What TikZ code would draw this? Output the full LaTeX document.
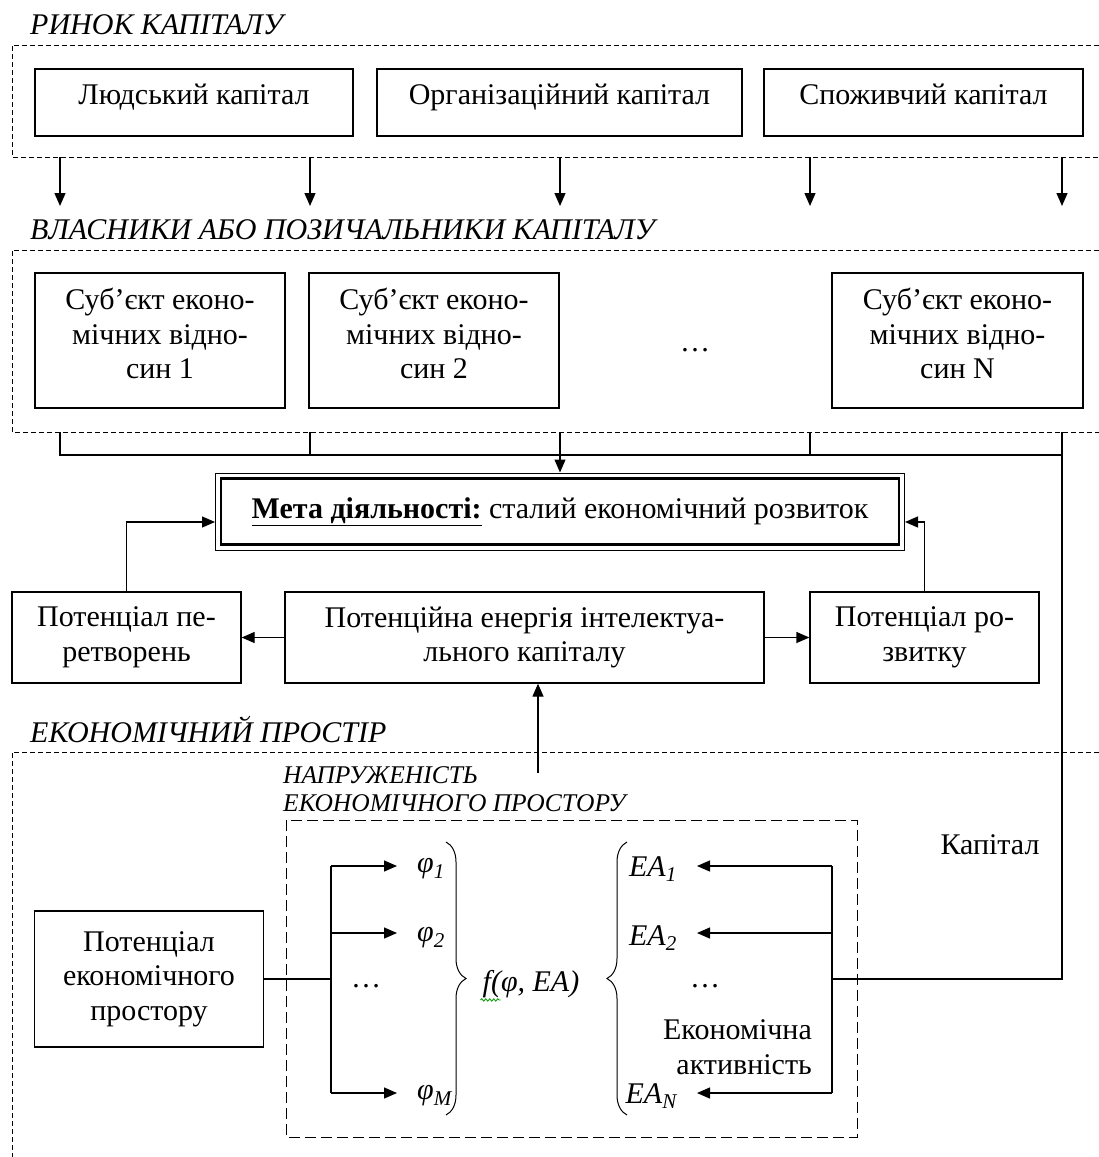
\documentclass[tikz,border=0pt]{standalone}
\usepackage{fontspec}
\setmainfont{Liberation Serif}
\usetikzlibrary{arrows.meta,decorations.pathreplacing,decorations.pathmorphing}
\newcommand\mainfs{\fontsize{30}{34.5}\selectfont}
\newcommand\smallfs{\fontsize{25.5}{28}\selectfont}
\newcommand\lift[2]{\raisebox{#1}[\height][\depth]{\begin{tabular}{@{}c@{}}#2\end{tabular}}}
\begin{document}
\begin{tikzpicture}[x=1pt,y=-1pt,
  every node/.style={font=\mainfs},
  box/.style={draw,line width=1.3pt,align=center,inner sep=0pt},
  region/.style={line width=1pt,dash pattern=on 5pt off 3pt},
  innerregion/.style={line width=1pt,dash pattern=on 11pt off 5pt},
  conn/.style={line width=1.3pt},
  arr/.style={conn,-{Triangle[length=13pt,width=11pt]}},
  ttl/.style={anchor=west,inner sep=0pt,font=\mainfs\itshape},
  sttl/.style={anchor=west,inner sep=0pt,font=\smallfs\itshape},
  var/.style={inner sep=0pt,font=\mainfs\itshape},
  brc/.style={line width=1pt,decorate,decoration={brace,amplitude=20pt}}
]
\useasboundingbox (0,0) rectangle (1099,1157);

% ---------- capital market ----------
\node[ttl] (t1) at (30,25) {РИНОК КАПІТАЛУ};
\draw[region] (1099,45) -- (12,45) -- (12,157) -- (1099,157);
\node[box,minimum width=318pt,minimum height=67pt] (hc) at (194,102.5) {\lift{5pt}{Людський капітал}};
\node[box,minimum width=365pt,minimum height=67pt] (oc) at (559.5,102.5) {\lift{5pt}{Організаційний капітал}};
\node[box,minimum width=319pt,minimum height=67pt] (cc) at (923.5,102.5) {\lift{5pt}{Споживчий капітал}};
\foreach \i/\x in {1/60,2/310,3/560,4/810,5/1062}{
  \coordinate (m\i) at (\x,157);
  \coordinate (n\i) at (\x,206);
  \draw[arr] (m\i) -- (n\i);
}

% ---------- owners ----------
\node[ttl] (t2) at (30,230) {ВЛАСНИКИ АБО ПОЗИЧАЛЬНИКИ КАПІТАЛУ};
\draw[region] (1099,250) -- (12,250) -- (12,432) -- (1099,432);
\node[box,minimum width=250pt,minimum height=135pt] (s1) at (160,340.5) {\lift{3pt}{Суб’єкт еконо-\\мічних відно-\\син 1}};
\node[box,minimum width=250pt,minimum height=135pt] (s2) at (434,340.5) {\lift{3pt}{Суб’єкт еконо-\\мічних відно-\\син 2}};
\node[box,minimum width=251pt,minimum height=135pt] (sN) at (957.5,340.5) {\lift{3pt}{Суб’єкт еконо-\\мічних відно-\\син N}};
\node (sdots) at (695,350) {…};

\foreach \i/\x in {1/60,2/310,3/560,4/810,5/1062}{
  \coordinate (o\i) at (\x,432);
  \coordinate (h\i) at (\x,455);
}
\draw[conn] (o1) -- (h1) -- (h5) -- (o5);
\draw[conn] (o2) -- (h2);
\draw[conn] (o4) -- (h4);

% ---------- goal ----------
\node[draw,line width=1pt,minimum width=689pt,minimum height=77pt,inner sep=0pt] (meta) at (560,511.5)
  {\underline{\textbf{Мета діяльності:}} сталий економічний розвиток};
\draw[line width=2.2pt] ([xshift=6pt,yshift=-6pt]meta.north west) rectangle ([xshift=-6pt,yshift=6pt]meta.south east);
\draw[arr] (o3) -- (o3 |- meta.north);

% ---------- potentials ----------
\node[box,minimum width=229pt,minimum height=91pt] (pp) at (126.5,637.5) {Потенціал пе-\\ретворень};
\node[box,minimum width=479pt,minimum height=91pt] (pe) at (524.5,637.5) {Потенційна енергія інтелектуа-\\льного капіталу};
\node[box,minimum width=229pt,minimum height=91pt] (pr) at (924.5,637.5) {Потенціал ро-\\звитку};
\draw[arr] (pe.west) -- (pp.east);
\draw[arr] (pe.east) -- (pr.west);
\draw[arr] (pp.north) |- ([yshift=-10.5pt]meta.west);
\draw[arr] (pr.north) |- ([yshift=-10.5pt]meta.east);

% ---------- economic space ----------
\node[ttl] (t3) at (30,730) {ЕКОНОМІЧНИЙ ПРОСТІР};
\draw[region] (1099,752) -- (12,752) -- (12,1157);
\node[sttl] (t4) at (283,775) {НАПРУЖЕНІСТЬ};
\node[sttl] (t5) at (283,803) {ЕКОНОМІЧНОГО ПРОСТОРУ};
\coordinate (up) at (538,773);
\draw[arr] (up) -- (up |- pe.south);
\draw[innerregion] (286,820) rectangle (857,1137);
\node (kap) at (990,845) {Капітал};

\node[box,minimum width=229pt,minimum height=136pt] (pep) at (149,979) {Потенціал\\економічного\\простору};

% phi side
\coordinate (b1) at (331,866);
\coordinate (b2) at (331,933);
\coordinate (bM) at (331,1093);
\node[var,anchor=west,inner xsep=20pt] (phi1) at (397,869) {φ\textsubscript{1}};
\node[var,anchor=west,inner xsep=20pt] (phi2) at (397,938) {φ\textsubscript{2}};
\node[var,anchor=west,inner xsep=20pt] (phiM) at (397,1096) {φ\textsubscript{\textit{M}}};
\node (pdots) at (366,986) {…};
\draw[conn] (pep.east) -- (b1 |- pep.east);
\draw[conn] (b1) -- (bM);
\draw[arr] (b1) -- (b1 -| phi1.west);
\draw[arr] (b2) -- (b2 -| phi2.west);
\draw[arr] (bM) -- (bM -| phiM.west);

% braces and function
\draw[brc] (446,842) -- (446,1115);
\draw[brc] (627,1115) -- (627,842);
\node[var] (fn) at (531,984) {f(φ, EA)};
\draw[green!60!black,line width=0.8pt,decorate,decoration={snake,amplitude=1.2pt,segment length=4pt}]
  ([xshift=-2pt,yshift=-2pt]fn.south west) -- ++(20,0);

% EA side
\coordinate (e0) at (832,979);
\coordinate (e1) at (832,866);
\coordinate (e2) at (832,933);
\coordinate (eN) at (832,1093);
\node[var,anchor=east,inner xsep=20pt] (ea1) at (697,869) {EA\textsubscript{1}};
\node[var,anchor=east,inner xsep=20pt] (ea2) at (697,938) {EA\textsubscript{2}};
\node[var,anchor=east,inner xsep=20pt] (eaN) at (697,1096) {EA\textsubscript{\textit{N}}};
\node (edots) at (705,986) {…};
\node[anchor=east,align=right,inner sep=0pt] (eact) at (812,1047) {Економічна\\активність};
\draw[conn] (e1) -- (eN);
\draw[arr] (e1) -- (e1 -| ea1.east);
\draw[arr] (e2) -- (e2 -| ea2.east);
\draw[arr] (eN) -- (eN -| eaN.east);
\draw[conn] (h5) |- (e0);
\end{tikzpicture}
\end{document}
